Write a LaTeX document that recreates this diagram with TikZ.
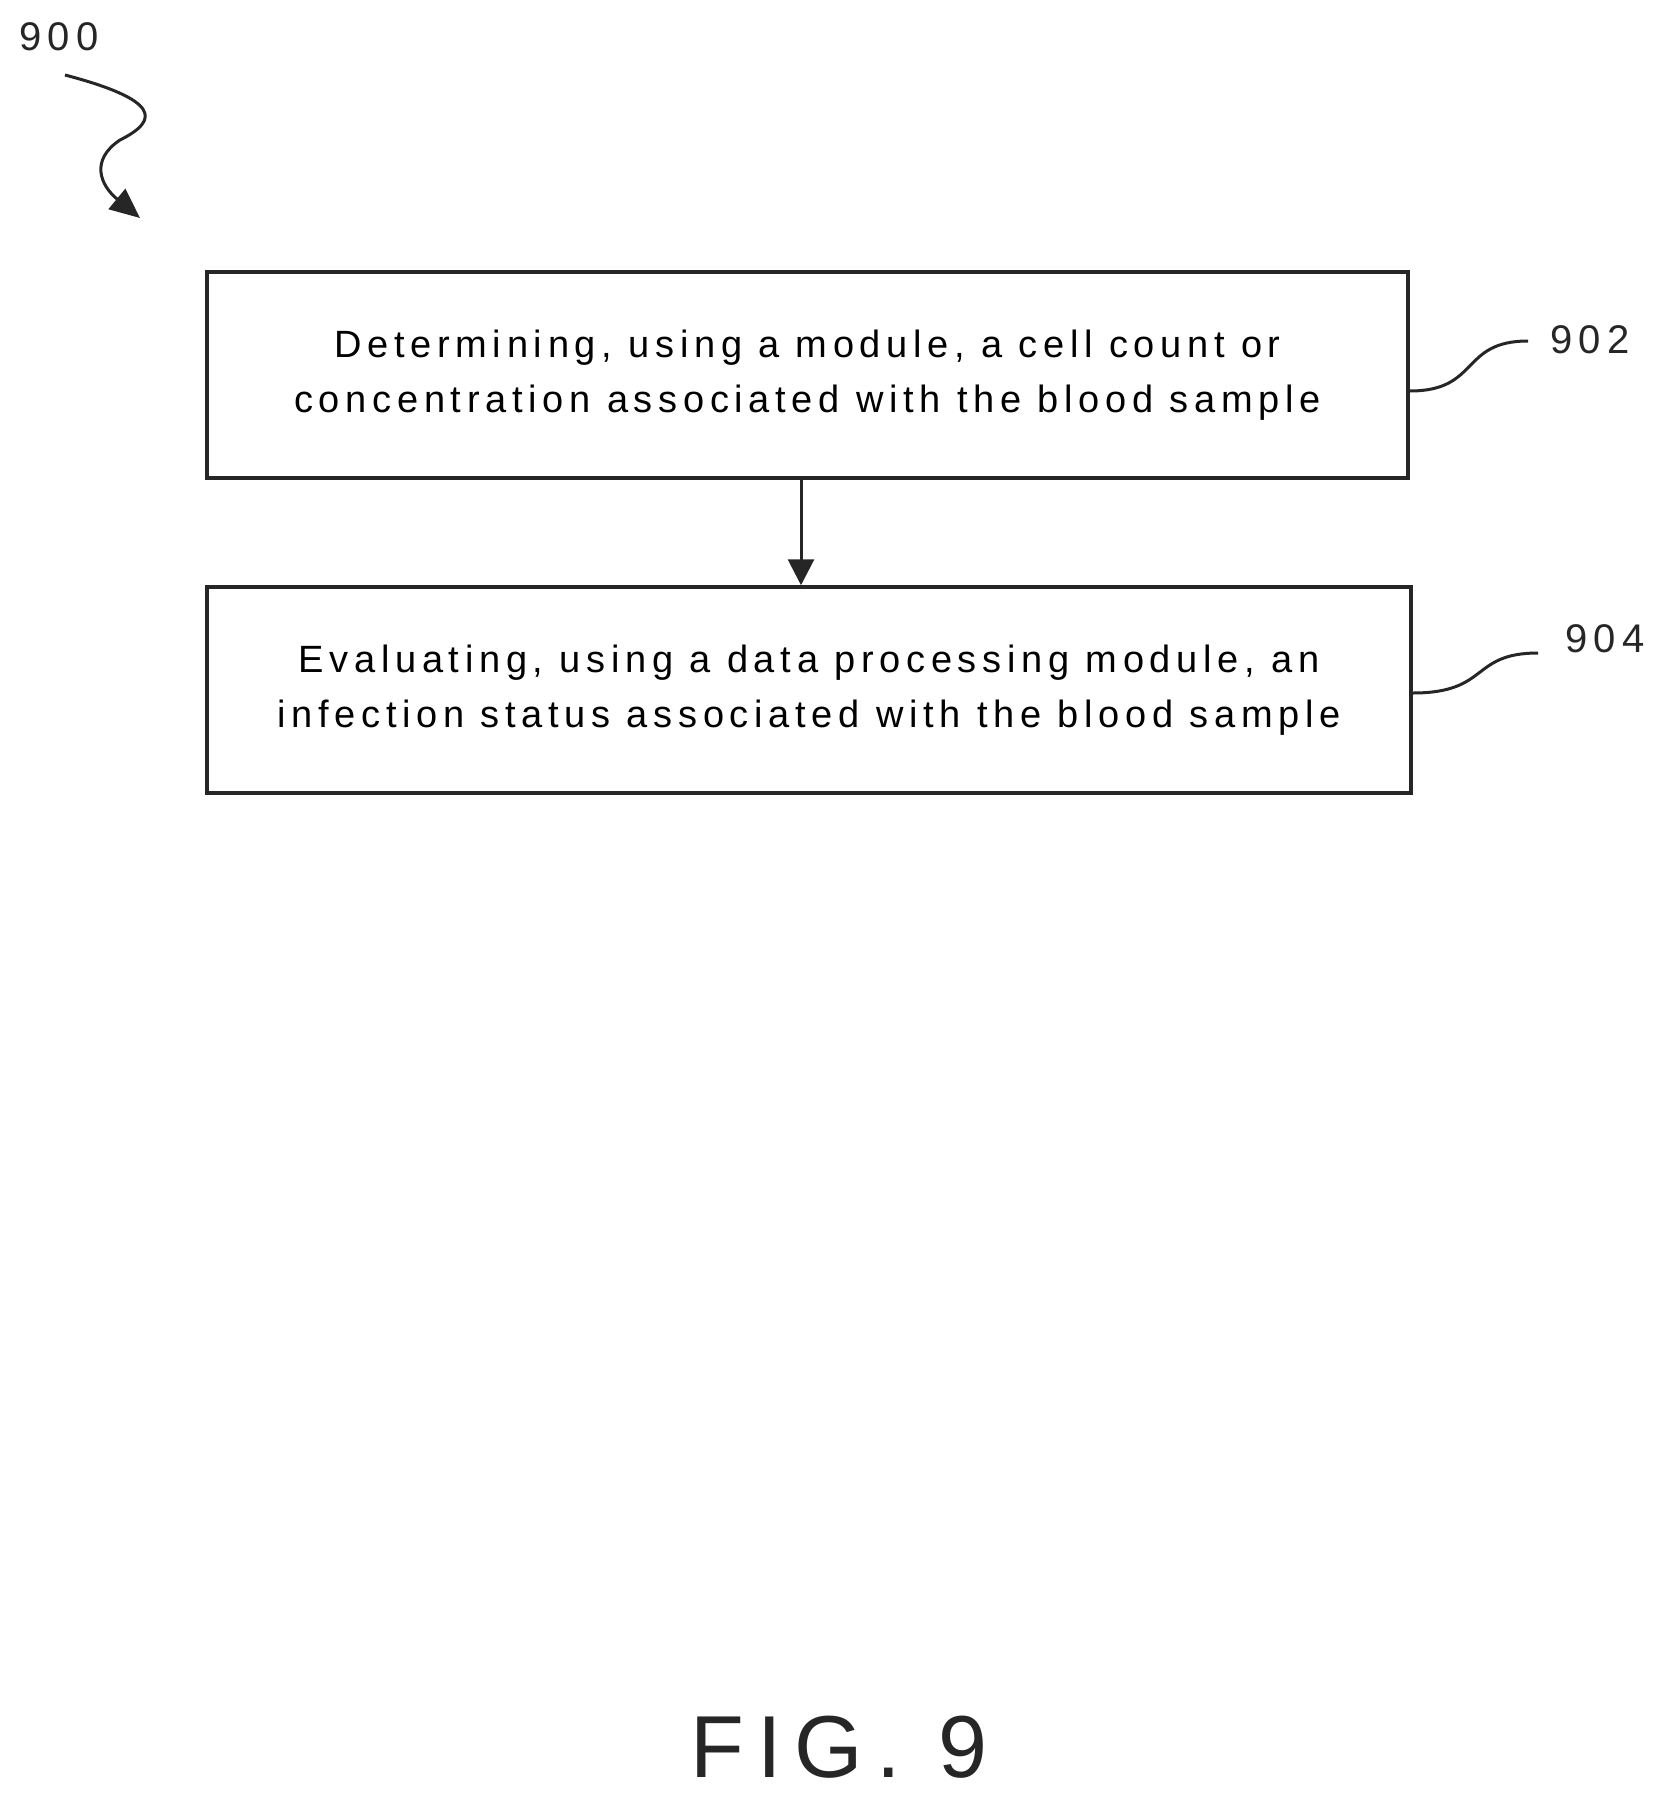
\documentclass[tikz,border=0pt]{standalone}
\usepackage{fontspec}
\setmainfont[LetterSpace=15]{Liberation Sans}
\usetikzlibrary{arrows.meta}
\begin{document}
\begin{tikzpicture}[x=1pt,y=-1pt,
  stepbox/.style={draw=black!85,line width=3.5pt,minimum width=1201pt,minimum height=206pt,align=center,inner sep=0pt,font=\fontsize{38}{55}\selectfont},
  lbl/.style={font=\fontsize{40}{44}\selectfont,text=black!85},
  lead/.style={draw=black!85,line width=3pt}]
\useasboundingbox (0,0) rectangle (1666,1804);
\node[stepbox] (b1) at (807.5,375) {Determining, using a module, a cell count or\\concentration associated with the blood sample};
\node[stepbox,minimum width=1204pt] (b2) at (809,690) {Evaluating, using a data processing module, an\\infection status associated with the blood sample};
\draw[lead,-{Triangle[length=26pt,width=26pt]}] (b1.south -| 801,0) -- (b2.north -| 801,0);
\node[lbl] (n900) at (59,37) {900};
\node[lbl] (n902) at (1590,340) {902};
\node[lbl] (n904) at (1605,639) {904};
\coordinate (a0) at (65,75);
\coordinate (a1) at (140,218);
\draw[lead,-{Triangle[length=30pt,width=26pt]}] (a0) .. controls (160,100) and (160,120) .. (120,140) .. controls (90,160) and (100,185) .. (a1);
\draw[lead] (b1.east |- 0,391) .. controls (1480,391) and (1460,341) .. (1528,341);
\draw[lead] (b2.east |- 0,693) .. controls (1490,693) and (1470,653) .. (1538,653);
\node[font=\fontsize{88}{90}\selectfont,text=black!85] (fig) at (839,1747) {FIG. 9};
\end{tikzpicture}
\end{document}
